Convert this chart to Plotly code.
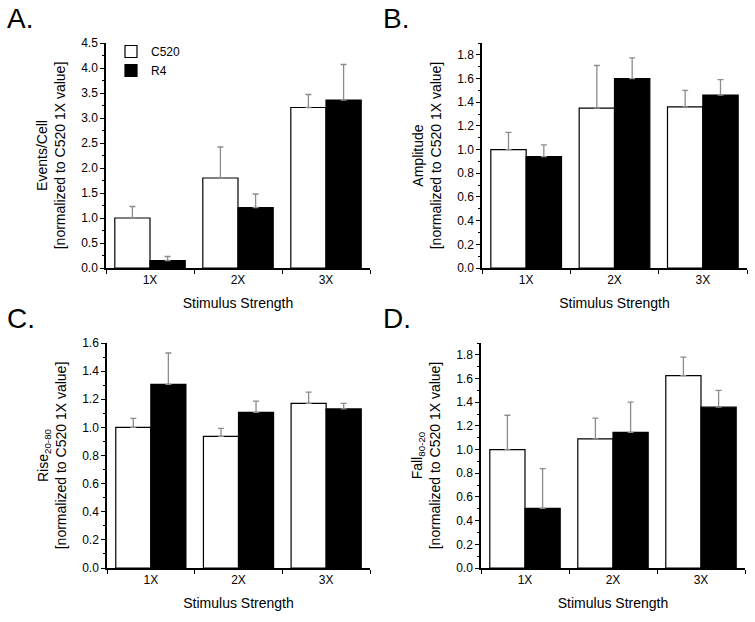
import plotly.graph_objects as go

categories = ["1X", "2X", "3X"]

# Panel A: Events/Cell
a_c520 = [1.00, 1.80, 3.21]
a_c520_err = [0.23, 0.62, 0.26]
a_r4 = [0.15, 1.21, 3.36]
a_r4_err = [0.08, 0.27, 0.71]

# Panel B: Amplitude
b_c520 = [1.00, 1.35, 1.36]
b_c520_err = [0.145, 0.36, 0.14]
b_r4 = [0.94, 1.60, 1.46]
b_r4_err = [0.10, 0.175, 0.13]

# Panel C: Rise 20-80
c_c520 = [1.00, 0.936, 1.171]
c_c520_err = [0.064, 0.057, 0.080]
c_r4 = [1.306, 1.107, 1.131]
c_r4_err = [0.223, 0.080, 0.040]

# Panel D: Fall 80-20
d_c520 = [1.00, 1.09, 1.625]
d_c520_err = [0.29, 0.175, 0.155]
d_r4 = [0.503, 1.145, 1.358]
d_r4_err = [0.337, 0.255, 0.142]

panels = [
    ("A.", a_c520, a_c520_err, a_r4, a_r4_err, "Events/Cell", [0, 4.5], 0.5, 0.25),
    ("B.", b_c520, b_c520_err, b_r4, b_r4_err, "Amplitude", [0, 1.9], 0.2, 0.1),
    ("C.", c_c520, c_c520_err, c_r4, c_r4_err, "Rise<sub>20-80</sub>", [0, 1.6], 0.2, 0.1),
    ("D.", d_c520, d_c520_err, d_r4, d_r4_err, "Fall<sub>80-20</sub>", [0, 1.9], 0.2, 0.1),
]

W, H = 755, 622


def px(sx):
    return sx / W


def py(sy):
    return 1 - sy / H


# pixel boxes: (left, right, top, bottom)
boxes = [(106, 370, 43, 268), (482, 747, 43, 268), (107, 370, 343, 568), (481, 745, 343, 568)]
# letter box left / vertical centre
letter_pos = [(5, 18.5), (381, 18.5), (5, 318.5), (381, 318.5)]

FONT = "Arial, Liberation Sans, sans-serif"
ERR_COLOR = "#8c8c8c"

fig = go.Figure()
for i, (letter, c520, c520e, r4, r4e, ylab, yr, dt, mdt) in enumerate(panels):
    n = i + 1
    xa = "x" if n == 1 else f"x{n}"
    ya = "y" if n == 1 else f"y{n}"
    fig.add_trace(go.Bar(
        x=categories, y=c520, name="C520", xaxis=xa, yaxis=ya,
        marker=dict(color="white", line=dict(color="black", width=1.2)),
        error_y=dict(type="data", array=c520e, arrayminus=[0] * 3, symmetric=False,
                     color=ERR_COLOR, thickness=1.3, width=3),
        showlegend=(n == 1), legendgroup="c520",
    ))
    fig.add_trace(go.Bar(
        x=categories, y=r4, name="R4", xaxis=xa, yaxis=ya,
        marker=dict(color="black", line=dict(color="black", width=1.2)),
        error_y=dict(type="data", array=r4e, arrayminus=[0] * 3, symmetric=False,
                     color=ERR_COLOR, thickness=1.3, width=3),
        showlegend=(n == 1), legendgroup="r4",
    ))
    l, r, t, b = boxes[i]
    axis_common = dict(showline=True, linecolor="black", linewidth=1.5, mirror=False,
                       showgrid=False, zeroline=False, ticks="outside", tickcolor="black",
                       automargin=False,
                       tickfont=dict(family=FONT, size=12, color="black"))
    fig.layout[f"xaxis{'' if n == 1 else n}"] = dict(
        axis_common, domain=[px(l), px(r)], anchor=ya, type="category",
        range=[-0.5, 2.5], tickson="boundaries", ticklen=4,
        title=dict(text="Stimulus Strength", font=dict(family=FONT, size=14, color="black"), standoff=12),
    )
    fig.layout[f"yaxis{'' if n == 1 else n}"] = dict(
        axis_common, domain=[py(b), py(t)], anchor=xa, range=yr,
        dtick=dt, tick0=0, tickformat=".1f", ticklen=4,
        minor=dict(ticks="outside", ticklen=2.5, dtick=mdt, tickcolor="black", showgrid=False),
        title=dict(text=f"{ylab}<br>[normalized to C520 1X value]",
                   font=dict(family=FONT, size=14, color="black"), standoff=12),
    )
    lx, ly = letter_pos[i]
    fig.add_annotation(text=letter, x=px(lx), y=py(ly), xref="paper", yref="paper",
                       xanchor="left", yanchor="middle", showarrow=False,
                       font=dict(family=FONT, size=28, color="black"))

fig.update_layout(
    width=W, height=H, margin=dict(l=0, r=0, t=0, b=0),
    paper_bgcolor="white", plot_bgcolor="white",
    barmode="group", bargap=0.2, bargroupgap=0,
    font=dict(family=FONT, color="black"),
    legend=dict(x=px(111), y=py(37), xanchor="left", yanchor="top",
                bgcolor="rgba(0,0,0,0)", font=dict(family=FONT, size=12, color="black"),
                tracegroupgap=0, itemwidth=30),
)

fig.write_html("out.html", config={"displayModeBar": False},
               post_script="document.body.style.margin='0';")
